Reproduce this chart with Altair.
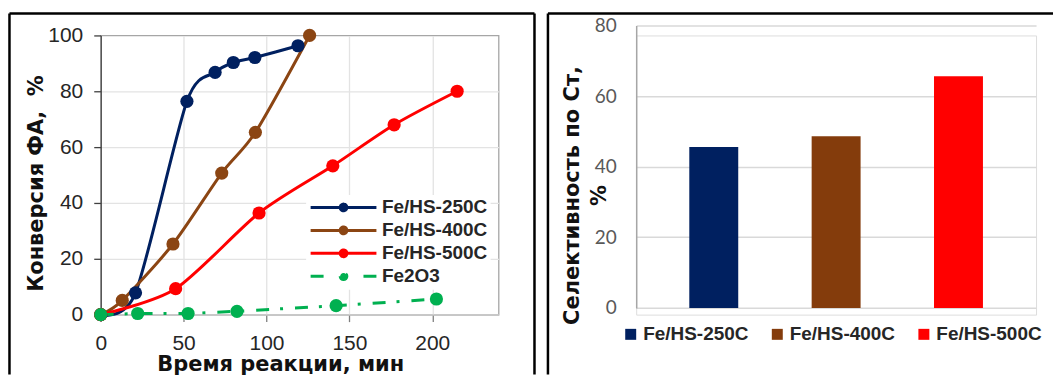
import altair as alt
import pandas as pd

# ---------------- data ----------------
series = ["Fe/HS-250C", "Fe/HS-400C", "Fe/HS-500C", "Fe2O3"]
line_colors = ["#002060", "#8B4513", "#FF0000", "#00B050"]

time_250 = [0, 21, 52, 69, 80, 93, 119]
conv_250 = [0, 7.8, 76.4, 86.8, 90.3, 92.1, 96.3]
time_400 = [0, 13, 43.6, 73, 93.3, 126]
conv_400 = [0, 5.1, 25.3, 50.7, 65.3, 100]
time_500 = [0, 45.2, 95.5, 140, 177, 215]
conv_500 = [0, 9.3, 36.4, 53.3, 68.0, 80]
time_fe = [0, 22.3, 52.7, 82.2, 142, 202.5]
conv_fe = [0, 0.4, 0.4, 1.2, 3.2, 5.6]

x_ticks = [0, 50, 100, 150, 200]
y_ticks = [0, 20, 40, 60, 80, 100]

catalysts = ["Fe/HS-250C", "Fe/HS-400C", "Fe/HS-500C"]
selectivity = [45.6, 48.6, 65.6]
bar_colors = ["#002060", "#843C0C", "#FF0000"]
sel_ticks = [0, 20, 40, 60, 80]

rows = []
for name, ts, cs in zip(series, [time_250, time_400, time_500, time_fe],
                        [conv_250, conv_400, conv_500, conv_fe]):
    for t, c in zip(ts, cs):
        rows.append({"series": name, "t": t, "c": c})
df = pd.DataFrame(rows)
sel_df = pd.DataFrame({"catalyst": catalysts, "sel": selectivity})
one = pd.DataFrame({"k": [0]})

FONT = "Liberation Sans"
TFONT = "DejaVu Sans"
TXT = "#262626"

# ---------------- left chart ----------------
legend_path = ("M-1,0L7.25,0M2.705,0A0.42,0.42,0,1,0,3.545,0"
               "A0.42,0.42,0,1,0,2.705,0Z")
dash_range = [[1, 0], [1, 0], [1, 0], [13, 11, 3, 12]]
legend_dash_range = [[1, 0], [1, 0], [1, 0], [13, 40]]

x_enc = alt.X("t:Q", scale=alt.Scale(domain=[0, 240], nice=False),
              axis=alt.Axis(values=x_ticks, title="Время реакции, мин",
                            titleFont=TFONT, titleFontSize=21, titleFontWeight="bold",
                            titleColor="#111111", titleX=180, titleY=56,
                            titleBaseline="alphabetic", labelFlush=False,
                            labelFont=FONT, labelFontSize=21, labelColor=TXT,
                            labelPadding=11, tickSize=7, tickColor="#7F7F7F",
                            tickWidth=1.3, domainColor="#BFBFBF", domainWidth=1.3,
                            gridColor="#E3E3E3", gridWidth=1.3))
y_enc = alt.Y("c:Q", scale=alt.Scale(domain=[0, 100], nice=False),
              axis=alt.Axis(values=y_ticks, title="Конверсия ФА,\u00a0 %",
                            titleFont=TFONT, titleFontSize=21, titleFontWeight="bold",
                            titleColor="#111111", titleX=-58, titleY=148,
                            titleBaseline="alphabetic", labelFlush=False,
                            labelFont=FONT, labelFontSize=21, labelColor=TXT,
                            labelPadding=11, tickSize=7, tickColor="#404040",
                            tickWidth=1.3, domainColor="#404040", domainWidth=1.3,
                            gridColor="#E3E3E3", gridWidth=1.3,
                            gridOpacity={"condition": {"test": "datum.value >= 100", "value": 0},
                                         "value": 1}))

# colour scale of the drawn marks (domain listed in reverse so that it is not
# merged with the legend scales below)
color_scale = alt.Scale(domain=series[::-1], range=line_colors[::-1])

smooth_lines = alt.Chart(df).transform_filter(
    "datum.series != 'Fe2O3'").mark_line(strokeWidth=3, interpolate="cardinal",
                                         tension=0.2).encode(
    x=x_enc, y=y_enc,
    color=alt.Color("series:N", scale=color_scale, legend=None),
)

fe_line = alt.Chart(df).transform_filter(
    "datum.series == 'Fe2O3'").mark_line(strokeWidth=3, strokeDash=dash_range[3]).encode(
    x="t:Q", y="c:Q",
    color=alt.Color("series:N", scale=color_scale, legend=None),
)

points = alt.Chart(df).mark_circle(size=175, opacity=1).encode(
    x="t:Q", y="c:Q",
    color=alt.Color("series:N", scale=color_scale, legend=None),
)

leg_cfg = dict(title=None, orient="none", legendX=206, legendY=160,
               symbolType=legend_path, symbolSize=256, symbolStrokeWidth=3,
               symbolOpacity=1,
               labelFont=FONT, labelFontSize=19, labelFontWeight="bold",
               labelColor=TXT, labelOffset=54, rowPadding=3, padding=3,
               fillColor="white")

legend_layer = alt.Chart(df).transform_filter("false").mark_point(
    filled=True, shape=legend_path, size=256, strokeWidth=3, opacity=1).encode(
    x="t:Q", y="c:Q",
    fill=alt.Fill("series:N", scale=alt.Scale(domain=series, range=line_colors),
                  legend=alt.Legend(**leg_cfg)),
    stroke=alt.Stroke("series:N", scale=alt.Scale(domain=series, range=line_colors),
                      legend=alt.Legend(**leg_cfg)),
    strokeDash=alt.StrokeDash("series:N",
                              scale=alt.Scale(domain=series, range=legend_dash_range),
                              legend=alt.Legend(**leg_cfg)),
)

frame_l_left = alt.Chart(one).mark_rule(color="black", strokeWidth=2.5).encode(
    x=alt.value(-91.5), y=alt.value(-22), y2=alt.value(340))
frame_l_top = alt.Chart(one).mark_rule(color="black", strokeWidth=2.5).encode(
    x=alt.value(-91.5), x2=alt.value(435), y=alt.value(-22))
frame_l_right = alt.Chart(one).mark_rule(color="black", strokeWidth=2.5).encode(
    x=alt.value(435), y=alt.value(-22), y2=alt.value(340))

left = alt.layer(smooth_lines, fe_line, points, legend_layer, frame_l_left, frame_l_top,
                 frame_l_right).properties(
    width=399, height=280,
    view=alt.ViewBackground(stroke="#A6A6A6", strokeWidth=1.3),
)

# ---------------- right chart ----------------
bars = alt.Chart(sel_df).mark_bar().encode(
    x=alt.X("catalyst:N", sort=catalysts,
            scale=alt.Scale(paddingInner=0.6, paddingOuter=0.434), axis=None),
    y=alt.Y("sel:Q", scale=alt.Scale(domain=[0, 80], range=[273.3, -10], nice=False),
            axis=alt.Axis(values=sel_ticks, title=["Селективность по Ст,", "%"],
                          titleFont=TFONT, titleFontSize=21, titleFontWeight="bold",
                          titleColor="#111111", titleX=-57.5, titleY=160,
                          titleBaseline="alphabetic", titleLineHeight=27,
                          labelFont="Lato", labelFontSize=19, labelColor="#595959",
                          labelPadding=20, ticks=False, labelFlush=False,
                          domainColor="#A6A6A6", domainWidth=1.5,
                          gridColor="#D9D9D9", gridWidth=1.5)),
    color=alt.Color("catalyst:N", scale=alt.Scale(domain=catalysts, range=bar_colors),
                    legend=alt.Legend(title=None, orient="none", direction="horizontal",
                                      columns=3, legendX=-15, legendY=290,
                                      symbolType="square", symbolSize=121,
                                      symbolStrokeWidth=0,
                                      labelFont=FONT, labelFontSize=19,
                                      labelFontWeight="bold", labelColor=TXT,
                                      labelOffset=3, columnPadding=19, padding=0)),
)

frame_r_left = alt.Chart(one).mark_rule(color="black", strokeWidth=2.5).encode(
    x=alt.value(-88.5), y=alt.value(-22), y2=alt.value(340))
frame_r_top = alt.Chart(one).mark_rule(color="black", strokeWidth=2.5).encode(
    x=alt.value(-88.5), x2=alt.value(418), y=alt.value(-22))

right = alt.layer(bars, frame_r_left, frame_r_top).properties(width=401, height=280)

chart = alt.hconcat(left, right, spacing=9).resolve_scale(
    color="independent", fill="independent", stroke="independent",
    strokeDash="independent").resolve_legend(
    color="independent", fill="independent", stroke="independent",
    strokeDash="independent").properties(
    padding={"left": 7, "top": 11, "right": 0, "bottom": 0},
    background="white",
).configure_view(strokeWidth=0).configure(font=FONT)

chart.save("out.html", embed_options={"renderer": "svg", "actions": False})
